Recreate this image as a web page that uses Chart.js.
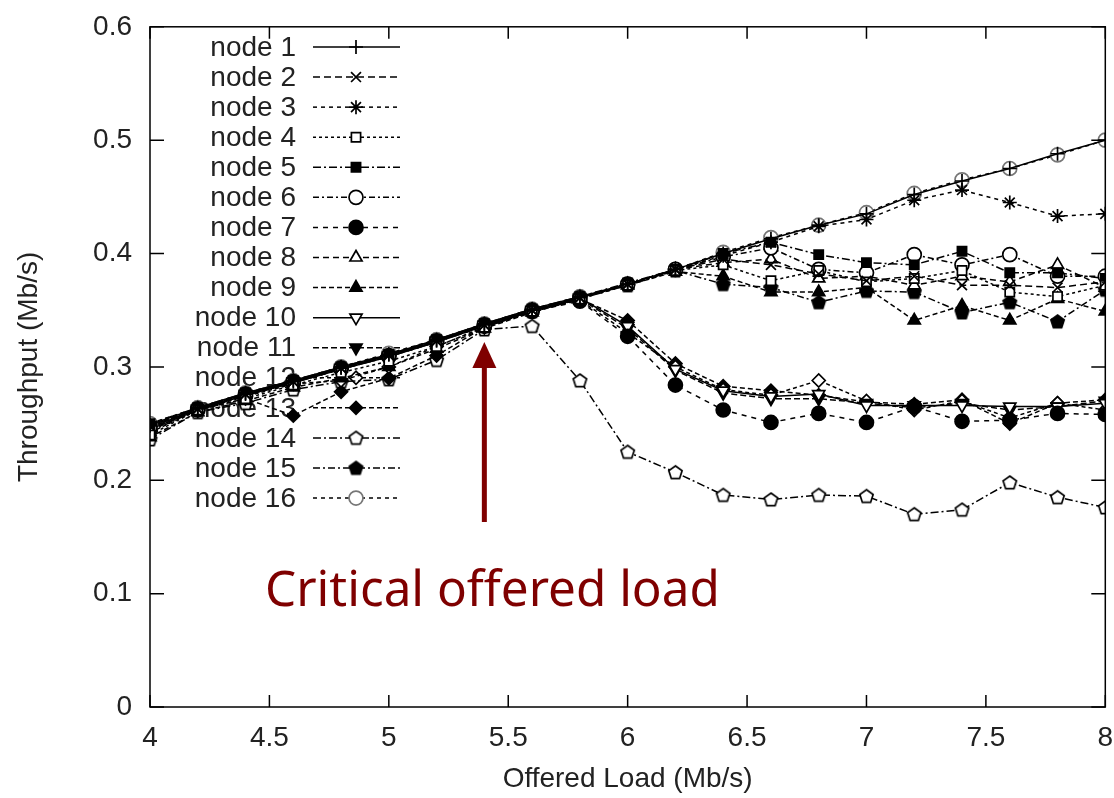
<!DOCTYPE html>
<html>
<head>
<meta charset="utf-8">
<script src="https://cdn.jsdelivr.net/npm/chart.js@4.4.1/dist/chart.umd.min.js"></script>
<style>
  html, body { margin: 0; padding: 0; background: #fff; }
  #box { width: 1114px; height: 798px; position: relative; }
</style>
</head>
<body>
<div id="box"><canvas id="grafico"></canvas></div>
<script>
// offered load (Mb/s)
var carga = [4, 4.2, 4.4, 4.6, 4.8, 5, 5.2, 5.4, 5.6, 5.8, 6, 6.2, 6.4, 6.6, 6.8, 7, 7.2, 7.4, 7.6, 7.8, 8];

// throughput per node (Mb/s)
var node1  = [0.249, 0.264, 0.277, 0.288, 0.300, 0.311, 0.324, 0.338, 0.351, 0.362, 0.373, 0.386, 0.400, 0.413, 0.425, 0.435, 0.452, 0.464, 0.475, 0.488, 0.500];
var node2  = [0.248, 0.263, 0.276, 0.287, 0.299, 0.310, 0.323, 0.337, 0.350, 0.361, 0.373, 0.386, 0.395, 0.390, 0.382, 0.376, 0.380, 0.372, 0.372, 0.370, 0.375];
var node3  = [0.248, 0.263, 0.276, 0.287, 0.299, 0.311, 0.323, 0.337, 0.350, 0.361, 0.373, 0.386, 0.398, 0.410, 0.424, 0.430, 0.447, 0.456, 0.445, 0.433, 0.435];
var node4  = [0.240, 0.262, 0.272, 0.284, 0.295, 0.305, 0.318, 0.335, 0.349, 0.360, 0.372, 0.385, 0.390, 0.376, 0.385, 0.375, 0.378, 0.385, 0.366, 0.362, 0.372];
var node5  = [0.250, 0.264, 0.277, 0.288, 0.300, 0.311, 0.324, 0.338, 0.351, 0.362, 0.374, 0.386, 0.400, 0.410, 0.399, 0.392, 0.390, 0.402, 0.383, 0.383, 0.378];
var node6  = [0.247, 0.263, 0.276, 0.287, 0.299, 0.310, 0.323, 0.337, 0.350, 0.361, 0.373, 0.386, 0.397, 0.405, 0.386, 0.383, 0.399, 0.390, 0.399, 0.380, 0.380];
var node7  = [0.244, 0.262, 0.275, 0.286, 0.298, 0.309, 0.322, 0.336, 0.349, 0.358, 0.327, 0.284, 0.262, 0.251, 0.259, 0.251, 0.265, 0.252, 0.253, 0.259, 0.258];
var node8  = [0.246, 0.263, 0.276, 0.287, 0.299, 0.310, 0.323, 0.337, 0.350, 0.361, 0.373, 0.386, 0.392, 0.395, 0.378, 0.380, 0.372, 0.380, 0.375, 0.390, 0.370];
var node9  = [0.238, 0.260, 0.270, 0.282, 0.290, 0.300, 0.316, 0.334, 0.348, 0.360, 0.372, 0.384, 0.380, 0.366, 0.366, 0.370, 0.341, 0.354, 0.341, 0.360, 0.349];
var node10 = [0.245, 0.262, 0.275, 0.286, 0.298, 0.309, 0.322, 0.336, 0.349, 0.361, 0.336, 0.298, 0.279, 0.274, 0.276, 0.266, 0.266, 0.266, 0.265, 0.265, 0.268];
var node11 = [0.246, 0.263, 0.276, 0.287, 0.299, 0.310, 0.323, 0.337, 0.350, 0.360, 0.334, 0.297, 0.277, 0.272, 0.272, 0.268, 0.264, 0.268, 0.262, 0.265, 0.270];
var node12 = [0.242, 0.262, 0.274, 0.285, 0.288, 0.300, 0.318, 0.335, 0.349, 0.359, 0.330, 0.300, 0.280, 0.275, 0.288, 0.270, 0.262, 0.270, 0.255, 0.268, 0.262];
var node13 = [0.247, 0.262, 0.272, 0.257, 0.278, 0.290, 0.310, 0.335, 0.349, 0.360, 0.341, 0.303, 0.283, 0.279, 0.275, 0.269, 0.267, 0.271, 0.250, 0.268, 0.271];
var node14 = [0.236, 0.260, 0.268, 0.280, 0.287, 0.289, 0.306, 0.333, 0.336, 0.288, 0.225, 0.207, 0.187, 0.183, 0.187, 0.186, 0.170, 0.174, 0.198, 0.185, 0.176];
var node15 = [0.243, 0.262, 0.275, 0.286, 0.298, 0.309, 0.322, 0.336, 0.349, 0.361, 0.372, 0.385, 0.373, 0.370, 0.357, 0.367, 0.366, 0.348, 0.357, 0.340, 0.368];
var node16 = [0.250, 0.264, 0.277, 0.288, 0.300, 0.312, 0.324, 0.338, 0.351, 0.362, 0.373, 0.386, 0.401, 0.414, 0.425, 0.436, 0.453, 0.465, 0.475, 0.487, 0.500];

var yTicks = [0, 0.1, 0.2, 0.3, 0.4, 0.5, 0.6];
var xTicks = [4, 4.5, 5, 5.5, 6, 6.5, 7, 7.5, 8];

var nomes = ["node 1", "node 2", "node 3", "node 4", "node 5", "node 6", "node 7", "node 8",
             "node 9", "node 10", "node 11", "node 12", "node 13", "node 14", "node 15", "node 16"];
var valores = [node1, node2, node3, node4, node5, node6, node7, node8,
               node9, node10, node11, node12, node13, node14, node15, node16];

// pentagon marker (gnuplot point type 14/15)
function pentagono(cheio) {
    var c = document.createElement("canvas");
    c.width = 17; c.height = 17;
    var g = c.getContext("2d");
    g.beginPath();
    for (var k = 0; k < 5; k++) {
        var a = -Math.PI / 2 + k * 2 * Math.PI / 5;
        var px = 8.5 + 7 * Math.cos(a), py = 9 + 7 * Math.sin(a);
        if (k == 0) g.moveTo(px, py); else g.lineTo(px, py);
    }
    g.closePath();
    g.fillStyle = cheio ? "#000" : "#fff";
    g.fill();
    g.lineWidth = 1.7;
    g.strokeStyle = "#000";
    g.stroke();
    return c;
}

// marker style, fill, dash, rotation
var estilos = [
    { ps: "cross",    fill: false, dash: [],            rot: 0 },
    { ps: "crossRot", fill: false, dash: [7, 4],        rot: 0 },
    { ps: "star",     fill: false, dash: [4, 4],        rot: 0 },
    { ps: "rect",     fill: false, dash: [3, 3],        rot: 0 },
    { ps: "rect",     fill: true,  dash: [8, 3, 2, 3],  rot: 0 },
    { ps: "circle",   fill: false, dash: [6, 3, 2, 3],  rot: 0 },
    { ps: "circle",   fill: true,  dash: [5, 5],        rot: 0 },
    { ps: "triangle", fill: false, dash: [6, 4],        rot: 0 },
    { ps: "triangle", fill: true,  dash: [5, 3],        rot: 0 },
    { ps: "triangle", fill: false, dash: [],            rot: 180 },
    { ps: "triangle", fill: true,  dash: [6, 3],        rot: 180 },
    { ps: "rectRot",  fill: false, dash: [4, 3],        rot: 0 },
    { ps: "rectRot",  fill: true,  dash: [5, 3],        rot: 0 },
    { ps: pentagono(false), fill: false, dash: [8, 3, 2, 3], rot: 0 },
    { ps: pentagono(true),  fill: true,  dash: [7, 3, 2, 3], rot: 0 },
    { ps: "circle",   fill: false, dash: [4, 4],        rot: 0 }
];

var datasets = [];
for (var i = 0; i < valores.length; i++) {
    var pts = [];
    for (var j = 0; j < carga.length; j++) {
        pts.push({ x: carga[j], y: valores[i][j] });
    }
    var e = estilos[i];
    var borda = i == 15 ? "#777" : "#000";
    datasets.push({
        label: nomes[i],
        data: pts,
        borderColor: "#000",
        borderWidth: 1.5,
        borderDash: e.dash,
        pointStyle: e.ps,
        rotation: e.rot,
        pointRadius: (e.ps == "rect" || e.ps == "rectRot") ? 6.5 : 7,
        pointBorderColor: borda,
        pointBorderWidth: 1.7,
        pointBackgroundColor: e.fill ? "#000" : "#fff",
        fill: false,
        tension: 0,
        order: i == 15 ? 1 : 0
    });
}

var fonte = "'Liberation Sans', Arial, sans-serif";

// frame with inward ticks on all four sides (gnuplot style)
var moldura = {
    id: "moldura",
    afterDraw: function(chart) {
        var ctx = chart.ctx, a = chart.chartArea;
        var sx = chart.scales.x, sy = chart.scales.y;
        ctx.save();
        ctx.strokeStyle = "#000";
        ctx.lineWidth = 1.5;
        ctx.setLineDash([]);
        ctx.strokeRect(a.left, a.top, a.right - a.left, a.bottom - a.top);
        ctx.beginPath();
        for (var k = 0; k < xTicks.length; k++) {
            var px = sx.getPixelForValue(xTicks[k]);
            ctx.moveTo(px, a.bottom); ctx.lineTo(px, a.bottom - 12);
            ctx.moveTo(px, a.top); ctx.lineTo(px, a.top + 12);
        }
        for (var k = 0; k < yTicks.length; k++) {
            var py = sy.getPixelForValue(yTicks[k]);
            ctx.moveTo(a.left, py); ctx.lineTo(a.left + 14, py);
            ctx.moveTo(a.right, py); ctx.lineTo(a.right - 14, py);
        }
        ctx.stroke();

        // annotation: arrow at the critical load + caption
        var ax = sx.getPixelForValue(5.4);
        ctx.strokeStyle = "#7f0000";
        ctx.fillStyle = "#7f0000";
        ctx.lineWidth = 5;
        ctx.beginPath();
        ctx.moveTo(ax, 522); ctx.lineTo(ax, 362);
        ctx.stroke();
        ctx.beginPath();
        ctx.moveTo(ax, 342); ctx.lineTo(ax - 12, 368); ctx.lineTo(ax + 12, 368);
        ctx.closePath();
        ctx.fill();

        var txt = "Critical offered load";
        ctx.font = "40px 'Comic Sans MS', 'Noto Sans', sans-serif";
        var tam = 40 * 455 / ctx.measureText(txt).width;
        ctx.font = tam.toFixed(1) + "px 'Comic Sans MS', 'Noto Sans', sans-serif";
        ctx.textAlign = "left";
        ctx.textBaseline = "alphabetic";
        ctx.fillText(txt, 265, 606);
        ctx.restore();
    }
};

// legend inside the plot, text on the left, sample on the right, under the data
var legenda = {
    id: "legenda",
    beforeDatasetsDraw: function(chart) {
        var ctx = chart.ctx;
        ctx.save();
        for (var k = 0; k < datasets.length; k++) {
            var d = datasets[k];
            var y = 47 + k * 30.07;
            ctx.fillStyle = "#222";
            ctx.font = "28px " + fonte;
            ctx.textAlign = "right";
            ctx.textBaseline = "middle";
            ctx.fillText(d.label, 296, y + 1);
            ctx.strokeStyle = "#000";
            ctx.lineWidth = 1.5;
            ctx.setLineDash(d.borderDash);
            ctx.beginPath();
            ctx.moveTo(313, y); ctx.lineTo(400, y);
            ctx.stroke();
            ctx.setLineDash([]);
            if (Chart.helpers && Chart.helpers.drawPoint) {
                ctx.strokeStyle = d.pointBorderColor;
                ctx.fillStyle = d.pointBackgroundColor;
                ctx.lineWidth = 1.7;
                Chart.helpers.drawPoint(ctx, {
                    pointStyle: d.pointStyle,
                    rotation: d.rotation,
                    radius: d.pointRadius,
                    borderWidth: 1.7
                }, 356, y);
            }
        }
        ctx.restore();
    }
};

const config = {
    type: "line",
    data: { datasets: datasets },
    options: {
        responsive: true,
        maintainAspectRatio: false,
        animation: false,
        layout: { padding: { top: 20, right: 7, left: 0, bottom: 0 } },
        plugins: {
            legend: { display: false },
            tooltip: { enabled: false }
        },
        scales: {
            x: {
                type: "linear",
                min: 4,
                max: 8,
                afterBuildTicks: function(s) { s.ticks = xTicks.map(function(v) { return { value: v }; }); },
                afterFit: function(s) { s.height = 91; s.paddingRight = 0; s.paddingLeft = 0; },
                ticks: {
                    color: "#222",
                    font: { size: 28, family: fonte },
                    padding: 6,
                    maxRotation: 0,
                    callback: function(v) { return String(v); }
                },
                grid: { display: false },
                border: { display: false },
                title: {
                    display: true,
                    text: "Offered Load (Mb/s)",
                    color: "#222",
                    font: { size: 28, family: fonte },
                    padding: { top: 4, bottom: 2 }
                }
            },
            y: {
                min: 0,
                max: 0.6,
                afterBuildTicks: function(s) { s.ticks = yTicks.map(function(v) { return { value: v }; }); },
                afterFit: function(s) { s.width = 150; },
                ticks: {
                    color: "#222",
                    font: { size: 28, family: fonte },
                    padding: 10,
                    callback: function(v) { return String(+v.toFixed(1)); }
                },
                grid: { display: false },
                border: { display: false },
                title: {
                    display: true,
                    text: "Throughput (Mb/s)",
                    color: "#222",
                    font: { size: 28, family: fonte },
                    padding: { top: 12, bottom: 0 }
                }
            }
        }
    },
    plugins: [legenda, moldura]
};

var myChart = new Chart(document.getElementById("grafico"), config);
</script>
</body>
</html>
